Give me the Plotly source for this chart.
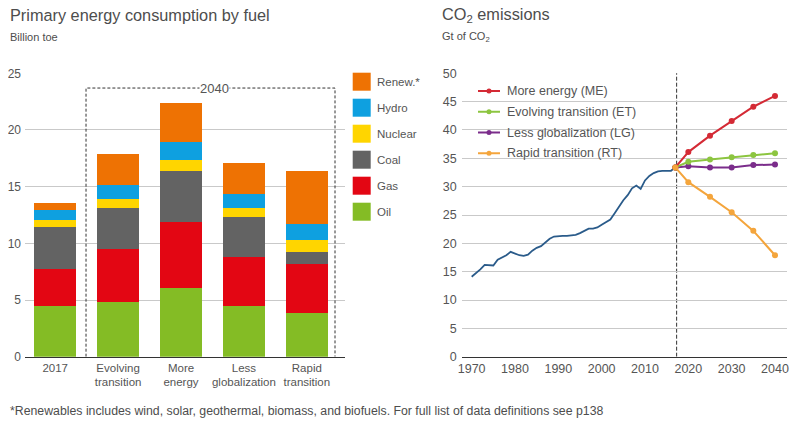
import plotly.graph_objects as go

# page body has an 8px margin: figure is sized to fit the 800x427 window exactly
OFF = 8
W, H = 800 - OFF, 427 - OFF

# ---------------- data ----------------
categories = ["2017", "Evolving<br>transition", "More<br>energy", "Less<br>globalization", "Rapid<br>transition"]
fuels = ["Oil", "Gas", "Coal", "Nuclear", "Hydro", "Renew.*"]
oil = [4.47, 4.82, 6.06, 4.47, 3.82]
gas = [3.23, 4.71, 5.82, 4.35, 4.36]
coal = [3.70, 3.59, 4.53, 3.53, 1.06]
nuclear = [0.66, 0.82, 0.94, 0.80, 1.05]
hydro = [0.88, 1.21, 1.62, 1.20, 1.42]
renew = [0.66, 2.73, 3.44, 2.77, 4.70]
fuel_colors = ["#84bc25", "#e30613", "#636363", "#ffd500", "#0ea0e0", "#ee7203"]

hist_years = list(range(1970, 2018))
hist_co2 = [14.1, 14.7, 15.4, 16.2, 16.2, 16.1, 17.1, 17.5, 17.9, 18.5,
            18.2, 17.9, 17.8, 18.0, 18.7, 19.2, 19.5, 20.1, 20.8, 21.2,
            21.3, 21.3, 21.3, 21.4, 21.5, 21.8, 22.2, 22.6, 22.6, 22.8,
            23.3, 23.7, 24.2, 25.3, 26.5, 27.6, 28.5, 29.7, 30.2, 29.6,
            31.1, 31.9, 32.4, 32.7, 32.8, 32.8, 32.8, 33.4]
scen_years = [2017, 2020, 2025, 2030, 2035, 2040]
me = [33.4, 36.1, 39.0, 41.6, 44.1, 46.0]
et = [33.4, 34.4, 34.8, 35.2, 35.6, 35.9]
lg = [33.4, 33.6, 33.4, 33.4, 33.8, 33.9]
rt = [33.4, 30.8, 28.2, 25.5, 22.2, 17.9]
scen_names = ["More energy (ME)", "Evolving transition (ET)", "Less globalization (LG)", "Rapid transition (RT)"]
scen_colors = ["#d42a35", "#8cc540", "#7b2d8b", "#f4a53c"]

FONT = "Arial, Liberation Sans, sans-serif"
TXT = "#555555"

def px(x):
    return (x - OFF) / W

def py(y):
    return 1 - (y - OFF) / H

fig = go.Figure()

# ---------------- left: stacked bars ----------------
xs = list(range(len(categories)))
for name, vals, col in zip(fuels, [oil, gas, coal, nuclear, hydro, renew], fuel_colors):
    fig.add_trace(go.Bar(x=xs, y=vals, name=name, marker=dict(color=col, line=dict(width=0)),
                         width=0.667, xaxis="x", yaxis="y", showlegend=False))

# ---------------- right: lines ----------------
fig.add_trace(go.Scatter(x=hist_years, y=hist_co2, mode="lines", line=dict(color="#2a5b8a", width=1.8),
                         xaxis="x2", yaxis="y2", showlegend=False))
for vals, col, name in zip([lg, et, me, rt], [scen_colors[2], scen_colors[1], scen_colors[0], scen_colors[3]],
                           [scen_names[2], scen_names[1], scen_names[0], scen_names[3]]):
    fig.add_trace(go.Scatter(x=scen_years, y=vals, mode="lines+markers", name=name,
                             line=dict(color=col, width=2), marker=dict(color=col, size=6),
                             xaxis="x2", yaxis="y2", showlegend=False))

ydom = [py(356.7), py(73.3)]
fig.update_layout(
    width=W, height=H,
    margin=dict(l=0, r=0, t=0, b=0, pad=0, autoexpand=False),
    paper_bgcolor="white", plot_bgcolor="white",
    barmode="stack",
    font=dict(family=FONT, color=TXT),
    xaxis=dict(domain=[px(25), px(345)], range=[-0.48, 4.607], tickvals=xs, ticktext=categories,
               showgrid=False, zeroline=False, showline=True, linecolor="#333333", linewidth=1,
               ticks="", tickfont=dict(size=11.5, color=TXT, family=FONT), fixedrange=True, automargin=False),
    yaxis=dict(domain=ydom, range=[0, 25], tickvals=[0, 5, 10, 15, 20, 25], showgrid=True,
               gridcolor="#c9c9c9", gridwidth=1, zeroline=False, showline=False, ticks="",
               tickfont=dict(size=12, color=TXT, family=FONT), ticklabelstandoff=3, automargin=False),
    xaxis2=dict(domain=[px(461.7), px(786.7)], range=[1967.7, 2042.7],
                tickvals=[1970, 1980, 1990, 2000, 2010, 2020, 2030, 2040],
                showgrid=False, zeroline=False, showline=True, linecolor="#333333", linewidth=1,
                ticks="", tickfont=dict(size=12.5, color=TXT, family=FONT), automargin=False, anchor="y2"),
    yaxis2=dict(domain=ydom, range=[0, 50], tickvals=list(range(0, 51, 5)), showgrid=True,
                gridcolor="#c9c9c9", gridwidth=1, zeroline=False, showline=False, ticks="",
                tickfont=dict(size=12.5, color=TXT, family=FONT), ticklabelstandoff=4, anchor="x2",
                automargin=False),
)

shapes = []
annotations = []

# dashed 2040 box
shapes.append(dict(type="path", xref="x", yref="y",
                   path="M 0.49 0 L 0.49 23.7 L 4.448 23.7 L 4.448 0",
                   line=dict(color="#333333", width=1, dash="3px,2px")))
annotations.append(dict(x=2.54, y=23.7, xref="x", yref="y", text="2040", showarrow=False,
                        font=dict(size=13, color=TXT, family=FONT), bgcolor="white", borderpad=0,
                        xanchor="center", yanchor="middle"))

# vertical dashed line in CO2 chart
shapes.append(dict(type="line", xref="x2", yref="y2", x0=2017.3, x1=2017.3, y0=0, y1=50.3,
                   line=dict(color="#333333", width=1, dash="4px,2px"), layer="below"))

# left legend
leg_names = ["Renew.*", "Hydro", "Nuclear", "Coal", "Gas", "Oil"]
leg_cols = ["#ee7203", "#0ea0e0", "#ffd500", "#636363", "#e30613", "#84bc25"]
for i, (n, c) in enumerate(zip(leg_names, leg_cols)):
    top = 72.7 + i * 26.0
    shapes.append(dict(type="rect", xref="paper", yref="paper", x0=px(352.7), x1=px(370.7),
                       y0=py(top + 18), y1=py(top), fillcolor=c, line=dict(width=0)))
    annotations.append(dict(x=px(375), y=py(top + 9), xref="paper", yref="paper", text=n,
                            showarrow=False, xanchor="left", yanchor="middle",
                            font=dict(size=11.5, color=TXT, family=FONT)))

# right legend
for i, (n, c) in enumerate(zip(scen_names, scen_colors)):
    yy = 91 + i * 20.75
    shapes.append(dict(type="line", xref="paper", yref="paper", x0=px(478), x1=px(500),
                       y0=py(yy), y1=py(yy), line=dict(color=c, width=2)))
    shapes.append(dict(type="circle", xref="paper", yref="paper", x0=px(486.5), x1=px(491.5),
                       y0=py(yy + 2.5), y1=py(yy - 2.5), fillcolor=c, line=dict(width=0)))
    annotations.append(dict(x=px(505), y=py(yy), xref="paper", yref="paper", text=n,
                            showarrow=False, xanchor="left", yanchor="middle",
                            font=dict(size=12.5, color=TXT, family=FONT)))

# titles
annotations.append(dict(x=px(8), y=py(15), xref="paper", yref="paper", text="Primary energy consumption by fuel",
                        showarrow=False, xanchor="left", yanchor="middle",
                        font=dict(size=16.3, color="#4d4d4d", family=FONT)))
annotations.append(dict(x=px(8), y=py(37), xref="paper", yref="paper", text="Billion toe",
                        showarrow=False, xanchor="left", yanchor="middle",
                        font=dict(size=11, color="#4d4d4d", family=FONT)))
annotations.append(dict(x=px(440), y=py(15), xref="paper", yref="paper",
                        text="CO<sub>2</sub> emissions",
                        showarrow=False, xanchor="left", yanchor="middle",
                        font=dict(size=16.3, color="#4d4d4d", family=FONT)))
annotations.append(dict(x=px(440), y=py(37), xref="paper", yref="paper", text="Gt of CO<sub>2</sub>",
                        showarrow=False, xanchor="left", yanchor="middle",
                        font=dict(size=11, color="#4d4d4d", family=FONT)))
# footer
annotations.append(dict(x=px(8), y=py(411), xref="paper", yref="paper",
                        text="*Renewables includes wind, solar, geothermal, biomass, and biofuels. For full list of data definitions see p138",
                        showarrow=False, xanchor="left", yanchor="middle",
                        font=dict(size=12.3, color="#4d4d4d", family=FONT)))

fig.update_layout(shapes=shapes, annotations=annotations)
fig.write_html("out.html")
